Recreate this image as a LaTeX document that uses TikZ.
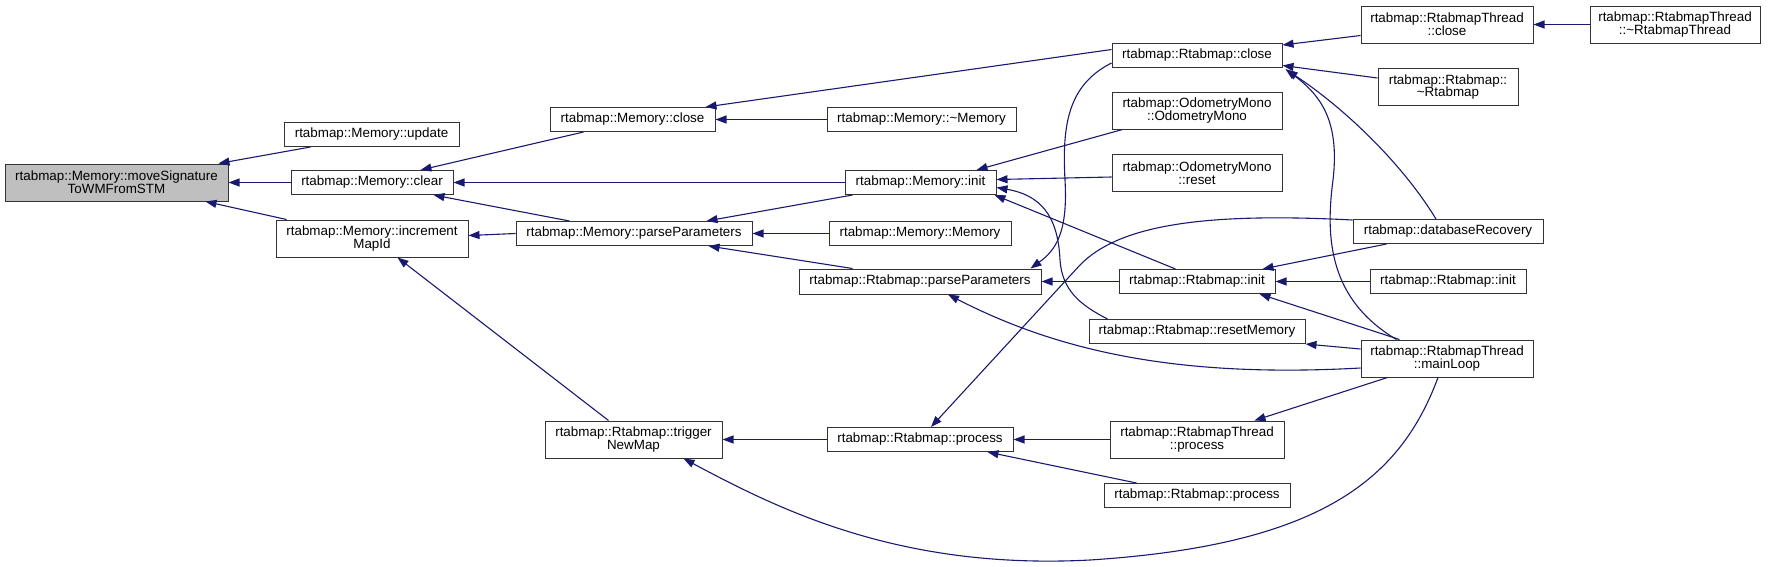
\documentclass[tikz,border=0pt]{standalone}
\usepackage{fontspec}
\setmainfont{Liberation Sans}
\usetikzlibrary{arrows.meta,calc}
\definecolor{edgecol}{HTML}{191970}
\begin{document}
\begin{tikzpicture}[x=1pt,y=-1pt,
  box/.style={draw=black!80, line width=1pt, fill=white, inner sep=0pt, align=center,
    font=\fontsize{13.4}{12.8}\selectfont},
  hl/.style={box, fill=black!25},
  conn/.style={draw=edgecol, line width=1.1pt, -{Triangle[length=11pt,width=8pt]}}]
\useasboundingbox (0,0) rectangle (1770,566);
% nodes
\node[hl, minimum width=223pt, minimum height=37pt] (ms) at (116.5,182.5) {rtabmap::Memory::moveSignature\\ToWMFromSTM};
\node[box, minimum width=175pt, minimum height=24pt] (up) at (371.5,134.5) {rtabmap::Memory::update};
\node[box, minimum width=162pt, minimum height=24pt] (clear) at (372,182.5) {rtabmap::Memory::clear};
\node[box, minimum width=192pt, minimum height=37pt] (inc) at (372,238.5) {rtabmap::Memory::increment\\MapId};
\node[box, minimum width=165pt, minimum height=24pt] (mclose) at (632.5,119.5) {rtabmap::Memory::close};
\node[box, minimum width=189pt, minimum height=24pt] (mdtor) at (921.5,119.5) {rtabmap::Memory::\textasciitilde Memory};
\node[box, minimum width=151pt, minimum height=24pt] (minit) at (920.5,182.5) {rtabmap::Memory::init};
\node[box, minimum width=236pt, minimum height=24pt] (mpp) at (634,233.5) {rtabmap::Memory::parseParameters};
\node[box, minimum width=182pt, minimum height=24pt] (mmem) at (920,233.5) {rtabmap::Memory::Memory};
\node[box, minimum width=242pt, minimum height=25pt] (rpp) at (920,281.5) {rtabmap::Rtabmap::parseParameters};
\node[box, minimum width=177pt, minimum height=37pt] (tnm) at (633.5,439.5) {rtabmap::Rtabmap::trigger\\NewMap};
\node[box, minimum width=186pt, minimum height=24pt] (rproc) at (920,439.5) {rtabmap::Rtabmap::process};
\node[box, minimum width=170pt, minimum height=24pt] (rclose) at (1197,55.5) {rtabmap::Rtabmap::close};
\node[box, minimum width=170pt, minimum height=37pt] (odo) at (1197,110.5) {rtabmap::OdometryMono\\::OdometryMono};
\node[box, minimum width=170pt, minimum height=37pt] (odor) at (1197,173) {rtabmap::OdometryMono\\::reset};
\node[box, minimum width=156pt, minimum height=24pt] (rinit1) at (1197,281.5) {rtabmap::Rtabmap::init};
\node[box, minimum width=216pt, minimum height=24pt] (rmem) at (1197,331.5) {rtabmap::Rtabmap::resetMemory};
\node[box, minimum width=174pt, minimum height=37pt] (rtproc) at (1197,439.5) {rtabmap::RtabmapThread\\::process};
\node[box, minimum width=186pt, minimum height=24pt] (rproc2) at (1197,495.5) {rtabmap::Rtabmap::process};
\node[box, minimum width=172pt, minimum height=37pt] (rtclose) at (1447,24.5) {rtabmap::RtabmapThread\\::close};
\node[box, minimum width=170pt, minimum height=37pt] (rtdtor) at (1675,24.5) {rtabmap::RtabmapThread\\::\textasciitilde RtabmapThread};
\node[box, minimum width=140pt, minimum height=37pt] (rdtor) at (1448,87) {rtabmap::Rtabmap::\\\textasciitilde Rtabmap};
\node[box, minimum width=190pt, minimum height=24pt] (dbrec) at (1448,231.5) {rtabmap::databaseRecovery};
\node[box, minimum width=156pt, minimum height=24pt] (rinit2) at (1448,281.5) {rtabmap::Rtabmap::init};
\node[box, minimum width=172pt, minimum height=37pt] (loop) at (1447,358.5) {rtabmap::RtabmapThread\\::mainLoop};
% edges (caller -> callee)
\draw[conn] ($(up.south west)+(27,0)$) -- ($(ms.north east)+(-10,0)$);
\draw[conn] (clear.west) -- (ms.east);
\draw[conn] ($(inc.north west)+(11,0)$) -- ($(ms.south east)+(-23,0)$);
\draw[conn] ($(mclose.south west)+(34,0)$) -- ($(clear.north east)+(-33,0)$);
\draw[conn] (minit.west) -- (clear.east);
\draw[conn] ($(mpp.north west)+(54,0)$) -- ($(clear.south east)+(-20,0)$);
\draw[conn] (mpp.west) -- ($(inc.east)+(0,-3)$);
\draw[conn] ($(tnm.north west)+(64,0)$) -- ($(inc.south west)+(122,0)$);
\draw[conn] ($(rclose.west)+(0,-6)$) -- ($(mclose.north east)+(-10,0)$);
\draw[conn] (mdtor.west) -- (mclose.east);
\draw[conn] ($(odo.south west)+(11,0)$) -- ($(minit.north east)+(-20,0)$);
\draw[conn] ($(odor.west)+(0,4)$) -- ($(minit.east)+(0,-3)$);
\draw[conn] ($(rinit1.north west)+(57,0)$) -- ($(minit.south east)+(-2,0)$);
\draw[conn] ($(rmem.north west)+(19,0)$) .. controls (1080,305) and (1062,290) .. (1060,260)
  .. controls (1058,215) and (1040,195) .. ($(minit.east)+(0,5)$);
\draw[conn] ($(minit.south west)+(8,0)$) -- ($(mpp.north east)+(-46,0)$);
\draw[conn] (mmem.west) -- (mpp.east);
\draw[conn] ($(rpp.north west)+(54,0)$) -- ($(mpp.south east)+(-44,0)$);
\draw[conn] ($(rclose.south west)+(0,-5)$) .. controls (1068,85) and (1062,125) .. (1065,180)
  .. controls (1068,232) and (1056,250) .. ($(rpp.north east)+(-11,0)$);
\draw[conn] (rinit1.west) -- (rpp.east);
\draw[conn] ($(loop.west)+(0,9.5)$) .. controls (1180,378) and (1060,352) .. ($(rpp.south)+(28,0)$);
\draw[conn] (rproc.west) -- (tnm.east);
\draw[conn] ($(dbrec.north west)+(0,1)$) .. controls (1200,212) and (1118,226) .. (1080,265)
  -- ($(rproc.north)+(11,0)$);
\draw[conn] (rtproc.west) -- (rproc.east);
\draw[conn] ($(rproc2.north west)+(33,0)$) -- ($(rproc.south east)+(-26,0)$);
\draw[conn] ($(loop.south)+(-9,0)$) .. controls (1400,480) and (1320,545) .. (1090,560)
  .. controls (900,570) and (780,510) .. ($(tnm.south)+(50,0)$);
\draw[conn] ($(loop.west)+(0,-9.5)$) -- (rmem.south east);
\draw[conn] ($(loop.south west)+(27,0)$) -- ($(rtproc.north east)+(-30,0)$);
\draw[conn] ($(loop.north west)+(39,0)$) -- ($(rinit1.south east)+(-16,0)$);
\draw[conn] ($(loop.north west)+(36,0)$) .. controls (1330,300) and (1325,240) .. (1333,180)
  .. controls (1340,120) and (1320,95) .. ($(rclose.south east)+(3,1)$);
\draw[conn] ($(dbrec.north)+(-12,0)$) .. controls (1400,160) and (1340,105) .. ($(rclose.south east)+(4,2)$);
\draw[conn] ($(rtclose.west)+(0,11)$) -- ($(rclose.north east)+(0,2)$);
\draw[conn] ($(rdtor.west)+(0,-9)$) -- ($(rclose.east)+(0,10)$);
\draw[conn] (rtdtor.west) -- (rtclose.east);
\draw[conn] ($(dbrec.south west)+(34,0)$) -- ($(rinit1.north east)+(-13,0)$);
\draw[conn] (rinit2.west) -- (rinit1.east);
\end{tikzpicture}
\end{document}
